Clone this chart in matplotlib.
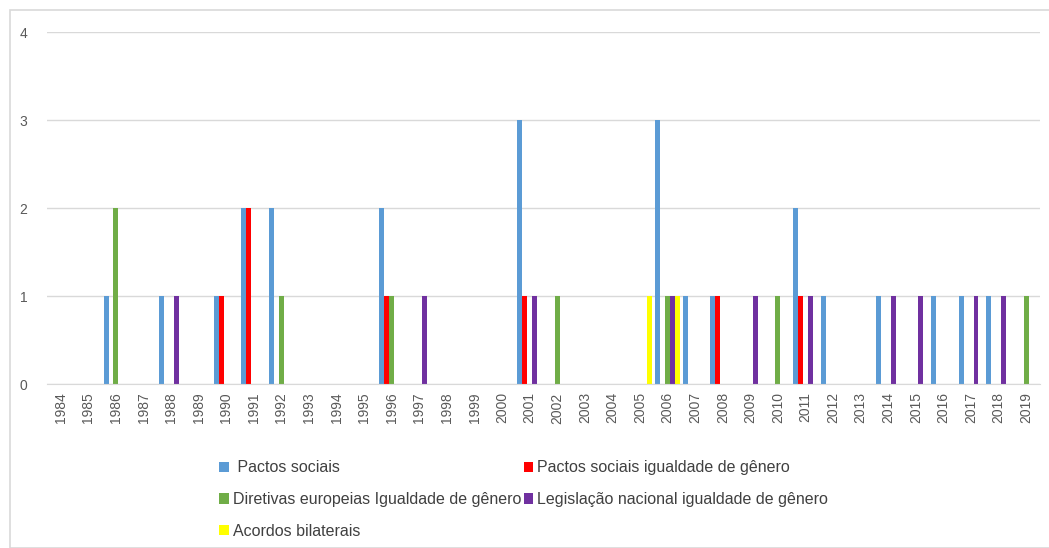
import numpy as np
import matplotlib
matplotlib.use("Agg")
import matplotlib.pyplot as plt
from matplotlib.patches import Patch, Rectangle

years = list(range(1984, 2020))

# contagem por ano de cada tipo de acordo / legislação
pactos_sociais = {1986: 1, 1988: 1, 1990: 1, 1991: 2, 1992: 2, 1996: 2, 2001: 3,
                  2006: 3, 2007: 1, 2008: 1, 2011: 2, 2012: 1, 2014: 1, 2016: 1,
                  2017: 1, 2018: 1}
pactos_igualdade = {1990: 1, 1991: 2, 1996: 1, 2001: 1, 2008: 1, 2011: 1}
diretivas_europeias = {1986: 2, 1992: 1, 1996: 1, 2002: 1, 2006: 1, 2010: 1, 2019: 1}
legislacao_nacional = {1988: 1, 1997: 1, 2001: 1, 2006: 1, 2009: 1, 2011: 1, 2014: 1,
                       2015: 1, 2017: 1, 2018: 1}
acordos_bilaterais = {2005: 1, 2006: 1}

series = [
    (" Pactos sociais", pactos_sociais, "#5B9BD5"),
    ("Pactos sociais igualdade de gênero", pactos_igualdade, "#FF0000"),
    ("Diretivas europeias Igualdade de gênero", diretivas_europeias, "#70AD47"),
    ("Legislação nacional igualdade de gênero", legislacao_nacional, "#7030A0"),
    ("Acordos bilaterais", acordos_bilaterais, "#FFFF00"),
]

plt.rcParams['font.family'] = ['Liberation Sans', 'DejaVu Sans']

fig = plt.figure(figsize=(10.49, 5.48), dpi=100)
ax = fig.add_axes([47 / 1049, 1 - 384 / 548, (1040 - 47) / 1049, (384 - 32) / 548])

# moldura do gráfico
fig.patches.append(Rectangle((10 / 1049, 0), 1.0, 1 - 10 / 548, transform=fig.transFigure,
                             fill=False, edgecolor="#D9D9D9", linewidth=1.2))

x = np.arange(len(years))
width = 0.18
for i, (label, data, color) in enumerate(series):
    vals = [data.get(y, 0) for y in years]
    ax.bar(x + (i - 2) * width, vals, width, color=color, label=label)

ax.set_xlim(-0.5, len(years) - 0.5)
ax.set_ylim(0, 4)
ax.set_yticks([0, 1, 2, 3, 4])
ax.set_xticks(x)
ax.set_xticklabels([str(y) for y in years], rotation=90)
ax.tick_params(axis="x", length=0, pad=6, labelsize=10, labelcolor="#595959")
ax.tick_params(axis="y", length=0, pad=14, labelsize=10, labelcolor="#595959")
ax.grid(axis="y", color="#D9D9D9", linewidth=1)
ax.set_axisbelow(True)
for s in ["top", "right", "left"]:
    ax.spines[s].set_visible(False)
ax.spines["bottom"].set_color("#D9D9D9")

handles = [Patch(facecolor=c, label=l) for l, _, c in series]
order = [0, 2, 4, 1, 3]
fig.legend([handles[k] for k in order], [handles[k].get_label() for k in order],
           ncol=2, loc="upper left", bbox_to_anchor=(205 / 1049, 1 - 446 / 548),
           frameon=False, fontsize=11.5, handlelength=0.6, handleheight=0.6,
           handletextpad=0.25, columnspacing=0.15, labelspacing=1.05,
           labelcolor="#404040")

fig.savefig("out.png", dpi=100)
